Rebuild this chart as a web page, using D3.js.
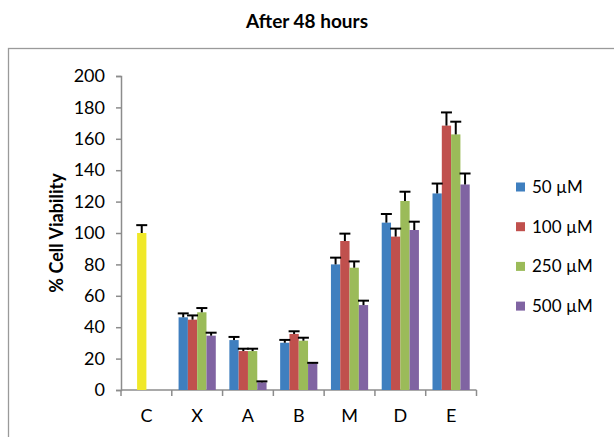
<!DOCTYPE html>
<html><head><meta charset="utf-8">
<script src="https://cdn.jsdelivr.net/npm/d3@7"></script>
<style>body{margin:0;background:#fff}svg{display:block}text{font-family:Lato,"Open Sans",sans-serif}</style>
</head><body><svg id="c" width="614" height="437"></svg>
<script>
const categories = ["C","X","A","B","M","D","E"];
const seriesNames = ["50 µM","100 µM","250 µM","500 µM"];
const seriesColors = ["#3F7FBF","#C0504D","#9BBB59","#8064A2"];
const controlColor = "#F0E828";
// values per series, per category (null = no bar)
const s50  = [null, 46.3, 31.8, 30.1, 80.0, 106.6, 125.2];
const s100 = [100,  44.8, 24.8, 35.7, 94.9,  97.7, 168.4];
const s250 = [null, 49.5, 24.8, 31.4, 77.9, 120.4, 162.8];
const s500 = [null, 34.6,  4.9, 17.0, 54.1, 101.9, 130.9];
const e50  = [null, 2.5, 2.0, 1.8, 4.3, 5.5, 6.3];
const e100 = [5.0,  2.7, 1.5, 1.7, 4.7, 5.1, 8.4];
const e250 = [null, 2.7, 1.5, 1.9, 4.0, 5.9, 8.1];
const e500 = [null, 1.9, 0.6, 0.3, 2.8, 5.3, 7.0];
const yTicks = [0,20,40,60,80,100,120,140,160,180,200];

const values = [s50,s100,s250,s500];
const errors = [e50,e100,e250,e500];

const svg = d3.select("#c");
// outer border
svg.append("rect").attr("x",8.5).attr("y",48.5).attr("width",640).attr("height",420)
  .attr("fill","none").attr("stroke","#9a9a9a").attr("stroke-width",1.3);

svg.append("text").attr("x",307).attr("y",28).attr("text-anchor","middle")
  .attr("font-size",19).attr("font-weight","bold").attr("fill","#000").text("After 48 hours");

const x0 = d3.scaleBand().domain(categories).range([121,476.5]).padding(0);
const x1 = d3.scaleBand().domain(d3.range(4)).range([0,x0.bandwidth()]).paddingInner(0).paddingOuter(0.73);
const y = d3.scaleLinear().domain([0,200]).range([390,76]);

// axes
const yAxis = svg.append("g").attr("transform","translate(121,0)")
  .call(d3.axisLeft(y).tickValues(yTicks).tickSize(5).tickPadding(11));
yAxis.select(".domain").attr("stroke","#8c8c8c").attr("stroke-width",1.5);
yAxis.selectAll(".tick line").attr("stroke","#8c8c8c").attr("stroke-width",1.5);
yAxis.selectAll(".tick text").attr("font-size",18).attr("fill","#000").attr("font-family","Lato");

const xAxisG = svg.append("g").attr("transform","translate(0,390)");
xAxisG.append("line").attr("x1",121).attr("x2",476.5).attr("y1",0).attr("y2",0)
  .attr("stroke","#8c8c8c").attr("stroke-width",1.5);
const bounds = categories.map(c=>x0(c)).concat([x0(categories[categories.length-1])+x0.bandwidth()]);
xAxisG.selectAll("line.t").data(bounds).join("line").attr("class","t")
  .attr("x1",d=>d).attr("x2",d=>d).attr("y1",0).attr("y2",6)
  .attr("stroke","#8c8c8c").attr("stroke-width",1.5);
xAxisG.selectAll("text").data(categories).join("text")
  .attr("x",c=>x0(c)+x0.bandwidth()/2).attr("y",32).attr("text-anchor","middle")
  .attr("font-size",18).attr("fill","#000").text(c=>c);

// bars
const pts = [];
values.forEach((arr,si)=>arr.forEach((v,ci)=>{ if(v!=null) pts.push({si,ci,v,e:errors[si][ci]}); }));
const g = svg.append("g");
g.selectAll("rect").data(pts).join("rect")
  .attr("x",d=>x0(categories[d.ci])+x1(d.si))
  .attr("width",x1.bandwidth())
  .attr("y",d=>y(d.v)).attr("height",d=>y(0)-y(d.v))
  .attr("fill",d=>categories[d.ci]==="C"?controlColor:seriesColors[d.si]);
// error bars
const eg = svg.append("g").attr("stroke","#000").attr("stroke-width",2);
pts.forEach(d=>{
  const cx = x0(categories[d.ci])+x1(d.si)+x1.bandwidth()/2;
  eg.append("line").attr("x1",cx).attr("x2",cx).attr("y1",y(d.v)).attr("y2",y(d.v+d.e));
  eg.append("line").attr("x1",cx-5.5).attr("x2",cx+5.5).attr("y1",y(d.v+d.e)).attr("y2",y(d.v+d.e));
});

// y label
svg.append("text").attr("transform","translate(63,233) rotate(-90)").attr("text-anchor","middle")
  .attr("font-size",18).attr("font-weight","bold").attr("fill","#000").text("% Cell Viability");

// legend
const lg = svg.append("g");
seriesNames.forEach((n,i)=>{
  const yy = 187 + i*39.7;
  lg.append("rect").attr("x",516).attr("y",yy-4.5).attr("width",9).attr("height",9).attr("fill",seriesColors[i]);
  lg.append("text").attr("x",532).attr("y",yy+6).attr("font-size",17).attr("fill","#000").text(n);
});
</script></body></html>
